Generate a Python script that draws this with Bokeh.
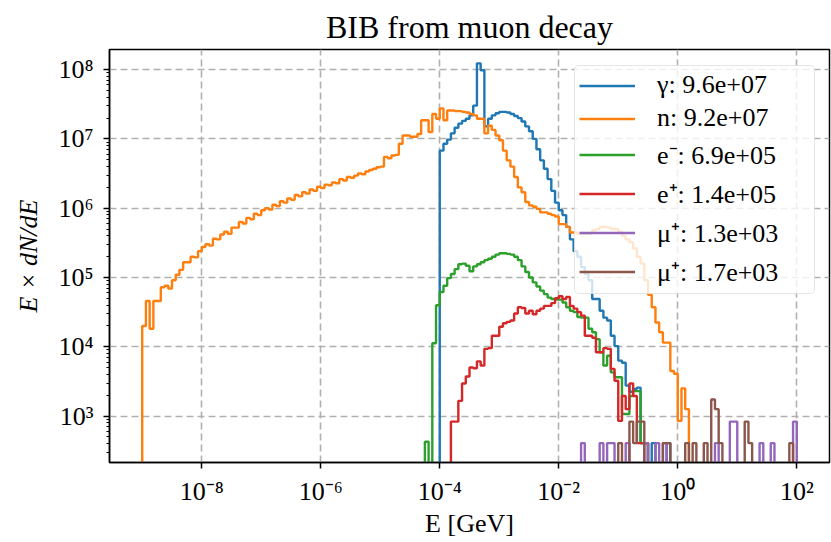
import numpy as np
from bokeh.plotting import figure
from bokeh.models import FixedTicker, Legend, LegendItem, Range1d
from bokeh.embed import file_html
from bokeh.resources import INLINE

# ---------------- texts ----------------
title_text = "BIB from muon decay"
x_label = "E [GeV]"
y_label = "E × dN/dE"

x_tick_values = [1e-8, 1e-6, 1e-4, 1e-2, 1e0, 1e2]
x_tick_labels = ["10⁻⁸", "10⁻⁶", "10⁻⁴", "10⁻²", "10⁰", "10²"]
y_tick_values = [1e3, 1e4, 1e5, 1e6, 1e7, 1e8]
y_tick_labels = ["10³", "10⁴", "10⁵", "10⁶", "10⁷", "10⁸"]

legend_labels = ["γ: 9.6e+07", "n: 9.2e+07", "e⁻: 6.9e+05",
                 "e⁺: 1.4e+05", "μ⁺: 1.3e+03", "μ⁺: 1.7e+03"]
series_colors = ["#1f77b4", "#ff7f0e", "#2ca02c", "#d62728", "#9467bd", "#8c564b"]

# ---------------- histogram binning ----------------
edge_exp_min, edge_exp_max, n_bins = -9, 2, 176   # log-spaced bins, 16 per decade

# ---------------- data: log10(E dN/dE) per bin ----------------
# photons (gamma), first bin index 80
gamma_first_bin = 80
gamma_log10 = [6.83, 6.93, 6.99, 7.08, 7.16, 7.22, 7.26, 7.29, 7.34, 7.48,
               8.09, 7.99, 7.18, 7.29, 7.34, 7.37, 7.39, 7.39, 7.38, 7.36,
               7.33, 7.30, 7.25, 7.18, 7.11, 7.00, 6.85, 6.69, 6.57, 6.42,
               6.25, 6.08, 5.97, 5.90, 5.73, 5.55, 5.38, 5.30, 5.15, 5.05,
               4.96, 4.69, 4.69, 4.52, 4.42, 4.38, 4.16, 4.01, 3.80, 3.77,
               3.44, 3.35, 3.39, 3.41, 2.61, 2.61, None, 2.61, None, None,
               None, 2.61]

# neutrons, first bin index 0
neutron_first_bin = 0
neutron_log10 = [4.30, 4.66, 4.26, 4.66, 4.66, 4.86, 4.88, 4.84, 4.96, 5.04,
                 5.11, 5.22, 5.22, 5.30, 5.29, 5.38, 5.44, 5.48, 5.46, 5.56,
                 5.55, 5.62, 5.66, 5.63, 5.72, 5.72, 5.80, 5.78, 5.86, 5.84,
                 5.92, 5.90, 5.97, 6.00, 5.98, 6.05, 6.03, 6.10, 6.08, 6.14,
                 6.12, 6.19, 6.17, 6.23, 6.21, 6.27, 6.25, 6.31, 6.29, 6.34,
                 6.33, 6.37, 6.36, 6.42, 6.40, 6.45, 6.44, 6.47, 6.50, 6.49,
                 6.53, 6.55, 6.57, 6.59, 6.60, 6.74, 6.72, 6.76, 6.77, 6.93,
                 7.05, 7.05, 7.03, 7.03, 7.07, 7.27, 7.27, 7.10, 7.36, 7.29,
                 7.44, 7.27, 7.41, 7.41, 7.40, 7.40, 7.39, 7.38, 7.36, 7.34,
                 7.29, 7.29, 7.08, 7.19, 7.13, 7.05, 6.98, 6.83, 6.69, 6.60,
                 6.45, 6.30, 6.23, 6.09, 6.04, 6.02, 5.99, 5.94, 5.94, 5.92,
                 5.90, 5.88, 5.77, 5.77, 5.73, 5.65, 5.65, 5.63, 5.63, 5.63,
                 5.63, 5.68, 5.70, 5.73, 5.73, 5.72, 5.70, 5.70, 5.66, 5.60,
                 5.55, 5.51, 5.42, 5.30, 5.20, 4.96, 4.75, 4.57, 4.35, 4.21,
                 4.06, 4.06, 3.65, 3.61, 2.93, 3.40, 3.10]

# electrons, first bin index 76
electron_first_bin = 76
electron_log10 = [2.63, None, 4.05, 4.60, 4.79, 4.88, 4.99, 5.05, 5.12, 5.19,
                  5.20, 5.17, 5.09, 5.16, 5.19, 5.22, 5.25, 5.27, 5.30, 5.33,
                  5.35, 5.35, 5.34, 5.33, 5.30, 5.25, 5.16, 5.08, 5.00, 4.93,
                  4.87, 4.81, 4.76, 4.71, 4.69, 4.68, 4.68, 4.64, 4.57, 4.52,
                  4.50, 4.43, 4.42, 4.42, 4.26, 4.21, 4.11, 3.92, 3.73, 3.87,
                  3.63, 3.56, 3.56, 3.03, 3.03, 3.29, 3.36, 3.36, 2.61, 2.61]

# positrons, first bin index 83
positron_first_bin = 83
positron_log10 = [2.92, 2.92, 3.22, 3.47, 3.57, 3.70, 3.69, 3.79, 3.73, 3.97,
                  3.98, 4.16, 4.16, 4.29, 4.34, 4.36, 4.38, 4.48, 4.57, 4.56,
                  4.48, 4.52, 4.47, 4.52, 4.55, 4.59, 4.59, 4.63, 4.70, 4.73,
                  4.69, 4.72, 4.59, 4.55, 4.50, 4.45, 4.16, 4.16, 4.13, 3.92,
                  3.92, 3.98, 3.97, 3.68, 3.51, 2.93, 3.29, 3.10, 3.47, 3.29,
                  2.61, 2.61, 2.61]

# muons (purple), sparse bins
muon_a_bins = [118, 123, 125, 126, 130, 135, 138, 140, 154, 158, 159, 166, 169, 175]
muon_a_log10 = [2.61, 2.61, 2.61, 2.61, 2.61, 2.61, 2.61, 2.61, 2.61, 2.92, 2.92, 2.61, 2.61, 2.92]

# muons (brown), sparse bins
muon_b_bins = [128, 131, 132, 133, 134, 140, 141, 146, 148, 151, 153, 154, 155, 162, 163, 174]
muon_b_log10 = [2.61, 2.92, 2.61, 2.92, 2.92, 2.61, 2.61, 2.61, 2.61, 2.61, 3.24, 3.10, 2.61, 2.92, 2.61, 2.61]

# ---------------- build step outlines ----------------
edges = np.logspace(edge_exp_min, edge_exp_max, n_bins + 1)
FLOOR = 1e-3  # empty bins: far below the visible range


def dense(first, logs):
    v = np.full(n_bins, FLOOR)
    for i, L in enumerate(logs):
        if L is not None:
            v[first + i] = 10.0 ** L
    return v


def sparse(bins, logs):
    v = np.full(n_bins, FLOOR)
    for b, L in zip(bins, logs):
        v[b] = 10.0 ** L
    return v


def step_xy(vals):
    x = np.repeat(edges, 2)
    y = np.concatenate([[FLOOR], np.repeat(vals, 2), [FLOOR]])
    return x, y


series = [
    dense(gamma_first_bin, gamma_log10),
    dense(neutron_first_bin, neutron_log10),
    dense(electron_first_bin, electron_log10),
    dense(positron_first_bin, positron_log10),
    sparse(muon_a_bins, muon_a_log10),
    sparse(muon_b_bins, muon_b_log10),
]

SERIF = "Liberation Serif"
X_LO, X_HI = -9.55, 2.55
Y_LO, Y_HI = 2.33, 8.29

p = figure(width=831, height=542, x_axis_type="log", y_axis_type="log",
           x_range=Range1d(10 ** X_LO, 10 ** X_HI),
           y_range=Range1d(10 ** Y_LO, 10 ** Y_HI),
           output_backend="svg", toolbar_location=None,
           min_border_left=109, min_border_right=2,
           min_border_top=49, min_border_bottom=80,
           title=title_text)

p.background_fill_color = "white"
p.border_fill_color = "white"
p.outline_line_color = "black"
p.outline_line_width = 1.5
p.outline_line_alpha = 1.0

p.title.text_font = SERIF
p.title.text_font_size = "32px"
p.title.text_font_style = "normal"
p.title.align = "center"
p.title.text_color = "black"
p.title.vertical_align = "bottom"
p.title.standoff = 10

renderers = []
for vals, color in zip(series, series_colors):
    x, y = step_xy(vals)
    r = p.line(x, y, line_color=color, line_width=2.4)
    renderers.append(r)

# axes
xt = FixedTicker(ticks=x_tick_values, minor_ticks=[])
minor_y = [m * 10.0 ** n for n in range(2, 9) for m in range(2, 10)]
yt = FixedTicker(ticks=y_tick_values, minor_ticks=minor_y)
p.xaxis.ticker = xt
p.yaxis.ticker = yt
p.xgrid.ticker = xt
p.ygrid.ticker = yt
p.xaxis.major_label_overrides = dict(zip(x_tick_values, x_tick_labels))
p.yaxis.major_label_overrides = dict(zip(y_tick_values, y_tick_labels))

for ax in (p.xaxis, p.yaxis):
    ax.axis_line_color = "black"
    ax.axis_line_width = 1.5
    ax.major_tick_in = 0
    ax.major_tick_out = 6
    ax.minor_tick_in = 0
    ax.minor_tick_out = 3
    ax.major_tick_line_width = 1.5
    ax.minor_tick_line_width = 1.2
    ax.major_tick_line_color = "black"
    ax.minor_tick_line_color = "black"
    ax.major_label_text_font = SERIF
    ax.major_label_text_font_size = "26px"
    ax.major_label_text_color = "black"
    ax.axis_label_text_font = SERIF
    ax.axis_label_text_font_size = "26px"
    ax.axis_label_text_color = "black"

p.xaxis.axis_label = x_label
p.yaxis.axis_label = y_label
p.xaxis.axis_label_text_font_style = "normal"
p.yaxis.axis_label_text_font_style = "italic"
p.xaxis.major_label_standoff = 8
p.yaxis.major_label_standoff = 10
p.xaxis.axis_label_standoff = 0
p.yaxis.axis_label_standoff = 12

for g in (p.xgrid, p.ygrid):
    g.grid_line_color = "#b0b0b0"
    g.grid_line_width = 1.6
    g.grid_line_dash = "7 4"

legend = Legend(items=[LegendItem(label=l, renderers=[r]) for l, r in zip(legend_labels, renderers)],
                location=(465, 168))
legend.label_text_font = SERIF
legend.label_text_font_style = "normal"
legend.label_text_font_size = "26px"
legend.label_text_color = "black"
legend.glyph_width = 56
legend.glyph_height = 29
legend.label_height = 29
legend.label_width = 153
legend.label_standoff = 22
legend.spacing = 3
legend.padding = 4
legend.margin = 0
legend.border_line_color = "#cccccc"
legend.border_line_width = 1.5
legend.background_fill_color = "white"
legend.background_fill_alpha = 0.8
try:
    legend.border_radius = 5
except Exception:
    pass
p.add_layout(legend)

open("out.html", "w").write(file_html(p, INLINE))
